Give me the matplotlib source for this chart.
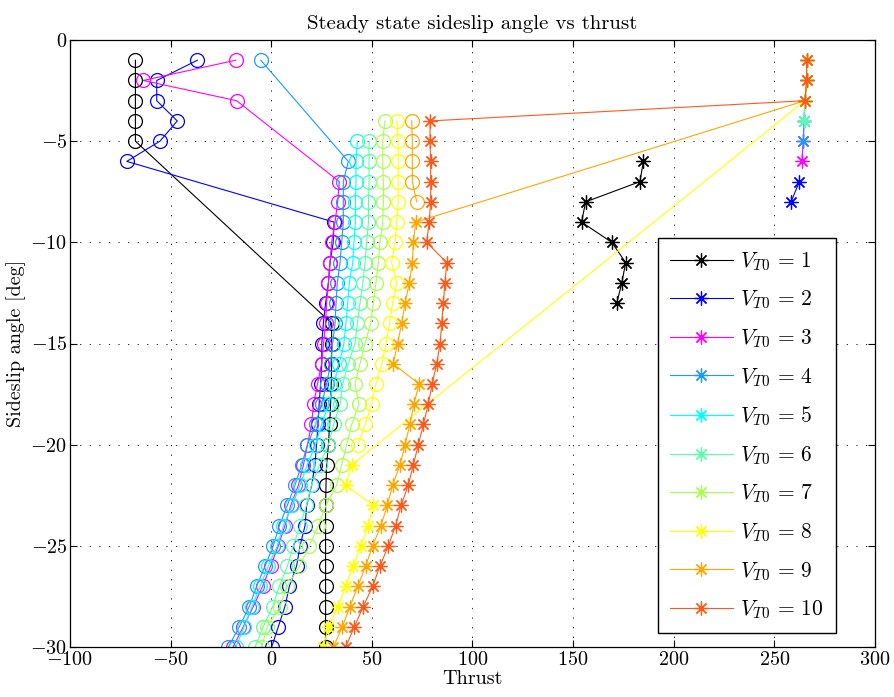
import matplotlib
matplotlib.use("Agg")
import matplotlib.pyplot as plt
from matplotlib.lines import Line2D

plt.rcParams["font.family"] = "serif"
plt.rcParams["font.serif"] = ["cmr10"]
plt.rcParams["mathtext.fontset"] = "cm"
plt.rcParams["axes.formatter.use_mathtext"] = True

# sideslip angle grid [deg], shared by every series
beta = [-1, -2, -3, -4, -5, -6, -7, -8, -9, -10,
        -11, -12, -13, -14, -15, -16, -17, -18, -19, -20,
        -21, -22, -23, -24, -25, -26, -27, -28, -29, -30]

# thrust per beta for each V_T0, and which branch each point belongs to
# ('o' = circle branch, '*' = star branch)
thrust_v1 = [-67.5, -67.5, -67.5, -67.5, -67.5,
             184.9, 183.2, 156.2, 154.2, 169.2, 176.1, 174.2, 171.7,
             30, 30, 30, 29.8, 29.5, 29, 28.4, 27.5, 27.2, 27, 27, 27, 27, 27, 27, 27, 27]
branch_v1 = "ooooo********ooooooooooooooooo"

thrust_v2 = [-36.7, -56.9, -56.9, -46.7, -55.3, -71.8,
             262.4, 258.3,
             31.2, 30.8, 29.2, 28.4, 27, 25.9, 25.1, 25.1, 24.5, 23.8, 23.2, 22.5,
             21.7, 20.1, 17.6, 16.8, 14.3, 12.6, 9, 6.8, 3.5, 0.2]
branch_v2 = "oooooo**oooooooooooooooooooooo"

thrust_v3 = [-17.7, -63.6, -17.2,
             264.7, 264.4, 263.6,
             33.8, 33, 31.7, 30, 29.2, 28.4, 27.5, 27, 26, 25, 23, 21, 20, 18,
             16, 13.5, 9.7, 6.8, 3.5, -0.3, -4.3, -8.9, -13.9, -19]
branch_v3 = "ooo***oooooooooooooooooooooooo"

thrust_v4 = [-5.2,
             266, 265.2, 264.7, 264.4,
             38.3, 35.8, 35.8, 35.8, 35, 34.2, 32.8, 32.2, 31.7, 30.5, 29.5, 27.5, 25, 22, 18,
             15.1, 11.8, 8, 4, 1, -3.1, -7.3, -10.9, -15.9, -21.3]
branch_v4 = "o****ooooooooooooooooooooooooo"

thrust_v5 = [266, 266, 265.2, 264.7,
             42.8, 42.1, 42.1, 41.8, 41.8, 41.1, 40.5, 38.8, 38, 37.1, 36.1, 33.8, 31, 28.5, 25, 22,
             17.9, 14.3, 10.5, 6, 3, -1.5, -5.5, -9.5, -13.5, -17.5]
branch_v5 = "****oooooooooooooooooooooooooo"

thrust_v6 = [266, 266, 265.2, 264.7,
             48.6, 48.6, 48.6, 48.3, 48.3, 47.4, 46.6, 45.5, 44.1, 42.8, 41.6, 38.3, 35.5, 34.2, 31, 28.4,
             24, 20, 17.5, 14.3, 11, 8, 4, 0.7, -4, -8.1]
branch_v6 = "****oooooooooooooooooooooooooo"

thrust_v7 = [266, 266, 265.2,
             56.5, 55.4, 55.4, 55.7, 55.7, 55.4, 54, 53.2, 52, 50.7, 49.4, 46.6, 44.1, 41.6, 43.5, 40, 37.5,
             35, 32.5, 27.2, 23.4, 19, 14, 8, 4.3, -2, -4.7]
branch_v7 = "***ooooooooooooooooooooooooooo"

thrust_v8 = [266, 266, 265.2,
             62.3, 63.1, 63.1, 63.1, 63.1, 62.3, 61.5, 59.8, 62.3, 60.3, 58.8, 57, 55, 52, 49.9, 46.6, 43.3,
             40, 37, 50.7, 48.2, 44.6, 40.8, 37, 33.3, 28.4, 25.9]
branch_v8 = "***ooooooooooooooooo**********"

thrust_v9 = [266, 266, 265.2,
             69.8, 70.1, 70.1, 70.1, 72.3,
             71.8, 70.6, 70.1, 68.6, 66.5, 64.8, 62.8, 60.6, 73.4, 70.9, 68.9, 66.5,
             64, 60.3, 57.7, 54.5, 50.4, 46.9, 43, 39.1, 35.3, 30.9]
branch_v9 = "***ooooo**********************"

thrust_v10 = [266, 266, 265.2,
              78.9, 78.9, 79.2, 79.2, 79.2, 78.5, 77.2, 87.2,
              86.3, 85.5, 84.7, 83.9, 82.2, 80, 78, 75.6, 73.1,
              70.6, 68.1, 64.5, 61.8, 58.2, 54, 50.4, 45.7, 41.3, 37]
branch_v10 = "******************************"

labels = ["1", "2", "3", "4", "5", "6", "7", "8", "9", "10"]
colors = ["k", (0, 0, 1), (1, 0, 1), (0.1, 0.6, 1), (0, 1, 1),
          (0.35, 1, 0.65), (0.65, 1, 0.3), (1, 1, 0), (1, 0.65, 0), (1, 0.35, 0.1)]

thrusts = [thrust_v1, thrust_v2, thrust_v3, thrust_v4, thrust_v5,
           thrust_v6, thrust_v7, thrust_v8, thrust_v9, thrust_v10]
branches = [branch_v1, branch_v2, branch_v3, branch_v4, branch_v5,
            branch_v6, branch_v7, branch_v8, branch_v9, branch_v10]

star = (8, 2, 0)

fig = plt.figure(figsize=(8.95, 6.97), dpi=100)
ax = fig.add_axes([70 / 895, 50 / 697, 805 / 895, 607 / 697])

handles = []
for t, br, col, lab in zip(thrusts, branches, colors, labels):
    xo = [x for x, b in zip(t, br) if b == "o"]
    yo = [y for y, b in zip(beta, br) if b == "o"]
    xs = [x for x, b in zip(t, br) if b == "*"]
    ys = [y for y, b in zip(beta, br) if b == "*"]
    if xo:
        ax.plot(xo, yo, "-", color=col, lw=0.8, marker="o", ms=10,
                mfc="none", mec=col, mew=0.9)
    if xs:
        ax.plot(xs, ys, "-", color=col, lw=0.8, marker=star, ms=10,
                mec=col, mew=0.9)
    handles.append(Line2D([], [], color=col, lw=0.8, marker=star, ms=10,
                          mec=col, mew=0.9, label=r"$V_{T0}\, =\, %s$" % lab))

ax.set_xlim(-100, 300)
ax.set_ylim(-30, 0)
ax.set_xticks([-100, -50, 0, 50, 100, 150, 200, 250, 300])
ax.set_yticks([-30, -25, -20, -15, -10, -5, 0])
ax.tick_params(direction="in", top=True, right=True, labelsize=14.5, length=5)
ax.tick_params(axis="x", pad=3)
ax.tick_params(axis="y", pad=2)
# sparse MATLAB-like dotted grid
ax.grid(True, color="k", linestyle=(0, (1.5, 10)), linewidth=0.6)
for s in ax.spines.values():
    s.set_linewidth(0.9)

ax.set_title("Steady state sideslip angle vs thrust", fontsize=15, pad=8)
ax.set_xlabel("Thrust", fontsize=14.5, labelpad=1)
ax.set_ylabel("Sideslip angle [deg]", fontsize=14.5, labelpad=3)

leg = ax.legend(handles=handles, loc="lower right", bbox_to_anchor=(0.951, 0.023),
                borderaxespad=0, fancybox=False, framealpha=1, edgecolor="k",
                fontsize=15.5, handlelength=2.9, labelspacing=0.74, borderpad=0.55,
                handletextpad=0.35)
leg.get_frame().set_linewidth(1.0)

fig.savefig("out.png", dpi=100)
